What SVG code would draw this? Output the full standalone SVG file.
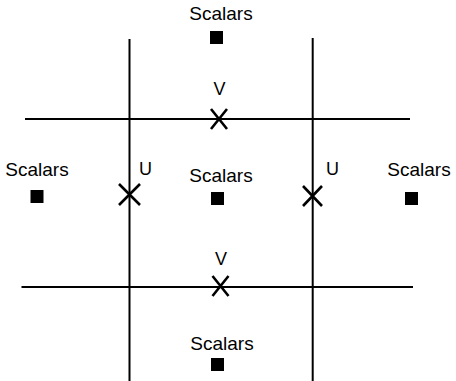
<svg xmlns="http://www.w3.org/2000/svg" width="456" height="381" viewBox="0 0 456 381">
<style>
.ln{stroke:#000;stroke-width:2;fill:none}
.x{stroke:#000;stroke-width:2.6;fill:none}
.t{font-family:"Liberation Sans",Arial,sans-serif;font-size:19px;fill:#000;text-anchor:middle}
.l{font-family:"Liberation Sans",Arial,sans-serif;font-size:18px;fill:#000;text-anchor:middle}
.sq{fill:#000}
</style>
<rect width="456" height="381" fill="#fff"/>
<g id="grid">
<line class="ln" x1="129.5" y1="39" x2="129.5" y2="381"/>
<line class="ln" x1="312.7" y1="38" x2="312.7" y2="381"/>
<line class="ln" x1="25" y1="119" x2="410" y2="119"/>
<line class="ln" x1="21.5" y1="287" x2="413" y2="287"/>
</g>
<g id="scalar-top"><text class="t" x="221" y="20">Scalars</text><rect class="sq" x="210" y="31" width="13" height="13"/></g>
<g id="scalar-left"><text class="t" x="37" y="176">Scalars</text><rect class="sq" x="30.5" y="190" width="13" height="13"/></g>
<g id="scalar-center"><text class="t" x="221" y="182">Scalars</text><rect class="sq" x="211" y="192" width="13" height="13"/></g>
<g id="scalar-right"><text class="t" x="419" y="176">Scalars</text><rect class="sq" x="405" y="192" width="13" height="13"/></g>
<g id="scalar-bottom"><text class="t" x="222" y="350">Scalars</text><rect class="sq" x="211" y="358" width="13" height="13"/></g>
<g id="v-top"><text class="l" x="219.5" y="95">V</text><path class="x" d="M211 109L227 129M227 109L211 129"/></g>
<g id="v-bottom"><text class="l" x="221" y="265">V</text><path class="x" d="M212.5 276L228.5 296M228.5 276L212.5 296"/></g>
<g id="u-left"><text class="l" x="145.5" y="175">U</text><path class="x" d="M119 184L140 205M140 184L119 205"/></g>
<g id="u-right"><text class="l" x="332.5" y="175">U</text><path class="x" d="M303 186L322 206M322 186L303 206"/></g>
</svg>
